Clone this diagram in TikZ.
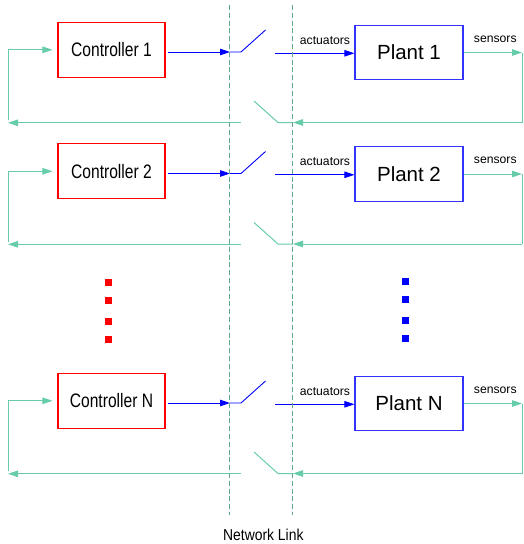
\documentclass[tikz,border=0pt]{standalone}
\usepackage{fontspec}
\setmainfont{Liberation Sans}
\newfontfamily\ctrlfont[FakeStretch=0.8]{Liberation Sans}
\newfontfamily\netfont[FakeStretch=0.88]{Liberation Sans}
\usetikzlibrary{arrows.meta}
\definecolor{fb}{HTML}{66CCAA}
\definecolor{net}{HTML}{5DAA85}
\definecolor{pblue}{HTML}{3333FF}
\begin{document}
\begin{tikzpicture}[x=1pt,y=-1pt,
 ctrlbox/.style={draw=red, line width=1.1pt, minimum width=107pt, minimum height=55pt, inner sep=0pt, font=\ctrlfont\fontsize{19.5}{20}\selectfont},
 plantbox/.style={draw=pblue, line width=1.1pt, minimum width=108pt, minimum height=54.4pt, inner sep=0pt, font=\fontsize{20.5}{21}\selectfont},
 act/.style={blue, line width=0.9pt},
 fbl/.style={fb, line width=1pt},
 tip/.style={-{Triangle[length=10pt,width=6.5pt]}},
 netline/.style={net, line width=1.4pt, dash pattern=on 5pt off 2.8pt},
 lbl/.style={font=\fontsize{12.2}{13}\selectfont, anchor=base, inner sep=0pt},
 dot/.style={minimum size=7pt, inner sep=0pt}]
\useasboundingbox (0,0) rectangle (523,544);

\foreach \d/\n/\t in {0/1/1,121.5/2/2,351/3/N}{
  \node[ctrlbox] (c\n) at (111.5,49.8+\d) {Controller \t};
  \node[plantbox] (p\n) at (409,52.5+\d) {Plant \t};
  % switch coordinates
  \coordinate (ca\n) at (230,52+\d);
  \coordinate (sa\n) at (241,52+\d);
  \coordinate (sb\n) at (265.5,30+\d);
  \coordinate (ab\n) at (275,53.3+\d);
  \coordinate (se\n) at (522,52.5+\d);
  \coordinate (rb\n) at (522,122.5+\d);
  \coordinate (m\n) at (293,122.5+\d);
  \coordinate (lr\n) at (278,122.5+\d);
  \coordinate (ll\n) at (254,101+\d);
  \coordinate (sl\n) at (241,122.8+\d);
  \coordinate (lf\n) at (8,122.8+\d);
  \coordinate (lu\n) at (8,120+\d);
  % controller output and switch
  \draw[act,tip,shorten <=2pt] (c\n.east |- ca\n) -- (ca\n);
  \draw[act] (ca\n) -- (sa\n) -- (sb\n);
  % actuators
  \draw[act,tip] (ab\n) -- (ab\n -| p\n.west);
  \node[lbl] (al\n) at (325,44.3+\d) {actuators};
  % sensors
  \draw[fbl,tip] (p\n.east) -- (se\n);
  \node[lbl] (sl\n-t) at (495.3,42.3+\d) {sensors};
  \draw[fbl] (se\n) -- (rb\n);
  \draw[fbl,tip] (rb\n) -- (m\n);
  \draw[fbl] (m\n) -- (lr\n) -- (ll\n);
  % feedback to controller
  \draw[fbl,tip] (sl\n) -- (lf\n);
  \draw[fbl,tip,shorten >=5pt] (lu\n) |- (c\n.west);
}

% dots
\foreach \y [count=\i] in {282.3,300.7,321.3,339.7}{
  \node[dot,fill=red] (rd\i) at (108.3,\y) {};
}
\foreach \y [count=\i] in {281,299.7,320.3,338.7}{
  \node[dot,fill=blue] (bd\i) at (405,\y) {};
}

% network link lines
\coordinate (n1t) at (229.3,5);
\coordinate (n1b) at (229.3,515);
\coordinate (n2t) at (292.3,5);
\coordinate (n2b) at (292.3,515);
\draw[netline] (n1t) -- (n1b);
\draw[netline] (n2t) -- (n2b);
\node[font=\netfont\fontsize{15.8}{16}\selectfont, anchor=base, inner sep=0pt] (nl) at (263.3,540.7) {Network Link};
\end{tikzpicture}
\end{document}
